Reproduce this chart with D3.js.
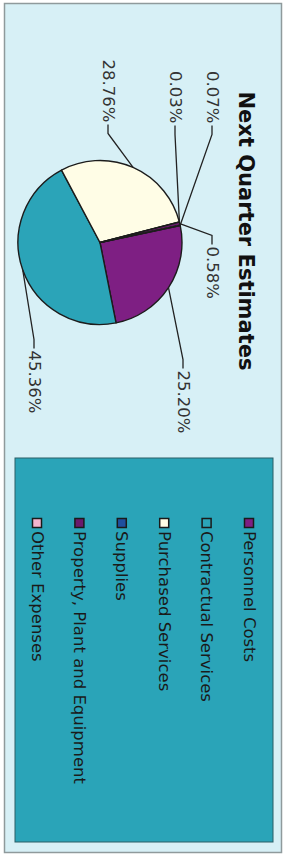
<!DOCTYPE html>
<html><head><meta charset="utf-8">
<script src="https://cdn.jsdelivr.net/npm/d3@7"></script>
<style>body{margin:0;background:#fff;overflow:hidden}</style>
</head><body>
<script>
// ---- data ----
const title = "Next Quarter Estimates";
const categories = ["Personnel Costs","Contractual Services","Purchased Services","Supplies","Property, Plant and Equipment","Other Expenses"];
const values = [25.20, 45.36, 28.76, 0.03, 0.58, 0.07];
const colors = ["#7e1f83","#2ba4b8","#fffde6","#1f4f9e","#6a1a6c","#f3b5cf"];

// ---- layout (unrotated frame, 856 x 286; then rotated 90deg clockwise) ----
const W = 856, H = 286;
const cx = 242.5, cy = 186, R = 82;
const startDeg = -12;
// label anchor offsets from pie centre (manually placed labels, as in original)
const labelOffsets = [[128,-83],[108,66],[-120,-8],[-119,-75],[4,-112],[-119,-112]];

const svg = d3.select("body").append("svg").attr("width", 286).attr("height", 856);
const g = svg.append("g").attr("transform", `translate(${H},0) rotate(90)`);

// frame
g.append("rect").attr("x", 3.5).attr("y", 4.5).attr("width", 849).attr("height", 277)
  .attr("fill", "#d7f0f6").attr("stroke", "#8f9a9c").attr("stroke-width", 1.5);

// title
g.append("text").attr("x", 231).attr("y", 40).attr("text-anchor", "middle")
  .attr("dominant-baseline", "central")
  .attr("font-family", "DejaVu Sans").attr("font-weight", "bold").attr("font-size", 21)
  .attr("fill", "#111").text(title);

// pie
const pie = d3.pie().sort(null)
  .startAngle(startDeg * Math.PI / 180)
  .endAngle(startDeg * Math.PI / 180 + 2 * Math.PI);
const arcs = pie(values);
const arc = d3.arc().innerRadius(0).outerRadius(R);
const pg = g.append("g").attr("transform", `translate(${cx},${cy})`);
pg.selectAll("path.slice").data(arcs).join("path").attr("class", "slice")
  .attr("d", arc).attr("fill", (d, i) => colors[i])
  .attr("stroke", "#1c1c1c").attr("stroke-width", 1.4).attr("stroke-linejoin", "round");

// labels + leaders
const fmt = v => v.toFixed(2) + "%";
arcs.forEach((a, i) => {
  const mid = (a.startAngle + a.endAngle) / 2;
  const rim = [R * Math.sin(mid), -R * Math.cos(mid)];
  const [lx, ly] = labelOffsets[i];
  const s = lx >= 0 ? 1 : -1;
  const tNear = [lx - s * 2, ly], tFar = [lx - s * 11, ly];
  pg.append("path")
    .attr("d", d3.line()([rim, tFar, tNear]))
    .attr("fill", "none").attr("stroke", "#222").attr("stroke-width", 1.3);
  pg.append("text").attr("x", lx).attr("y", ly)
    .attr("text-anchor", s > 0 ? "start" : "end")
    .attr("dominant-baseline", "central")
    .attr("font-family", "DejaVu Sans").attr("font-size", 16.5)
    .attr("fill", "#333").text(fmt(values[i]));
});

// legend
g.append("rect").attr("x", 458).attr("y", 13).attr("width", 384).attr("height", 258)
  .attr("fill", "#2aa4b8").attr("stroke", "#2b5e66").attr("stroke-width", 1);
const ly = d3.scalePoint().domain(categories).range([37, 249]);
const lg = g.append("g");
categories.forEach((c, i) => {
  lg.append("rect").attr("x", 518.5).attr("y", ly(c) - 4.5).attr("width", 9).attr("height", 9)
    .attr("fill", colors[i]).attr("stroke", "#1a1a1a").attr("stroke-width", 1.5);
  lg.append("text").attr("x", 531).attr("y", ly(c)).attr("dominant-baseline", "central")
    .attr("font-family", "DejaVu Sans").attr("font-size", 16.5)
    .attr("fill", "#1a1a1a").text(c);
});
</script>
</body></html>
